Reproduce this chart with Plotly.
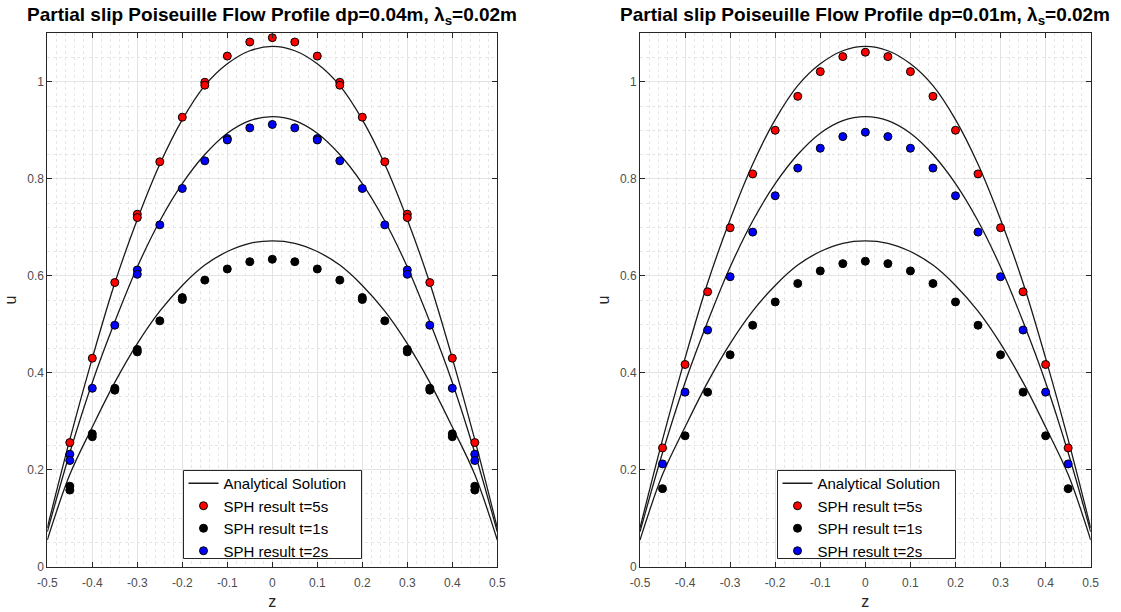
import plotly.graph_objects as go

# ---------------- data ----------------
z_line = [-0.5, -0.45, -0.4, -0.35, -0.3, -0.25, -0.2, -0.15, -0.1, -0.05, 0.0,
          0.05, 0.1, 0.15, 0.2, 0.25, 0.3, 0.35, 0.4, 0.45, 0.5]
ana_t5 = [0.080, 0.262, 0.430, 0.585, 0.716, 0.830, 0.922, 0.992, 1.037, 1.064, 1.073,
          1.064, 1.037, 0.992, 0.922, 0.830, 0.716, 0.585, 0.430, 0.262, 0.080]
ana_t2 = [0.072, 0.235, 0.380, 0.505, 0.618, 0.713, 0.790, 0.850, 0.894, 0.920, 0.928,
          0.920, 0.894, 0.850, 0.790, 0.713, 0.618, 0.505, 0.380, 0.235, 0.072]
ana_t1 = [0.055, 0.190, 0.288, 0.380, 0.460, 0.527, 0.580, 0.622, 0.650, 0.667, 0.672,
          0.667, 0.650, 0.622, 0.580, 0.527, 0.460, 0.380, 0.288, 0.190, 0.055]

# left panel (dp=0.04m)
L_red_z = [-0.45, -0.4, -0.35, -0.3, -0.3, -0.25, -0.2, -0.15, -0.15, -0.1, -0.05, 0.0,
           0.05, 0.1, 0.15, 0.15, 0.2, 0.25, 0.3, 0.3, 0.35, 0.4, 0.45]
L_red_u = [0.256, 0.430, 0.586, 0.727, 0.720, 0.835, 0.927, 0.999, 0.993, 1.053, 1.082, 1.091,
           1.082, 1.053, 0.999, 0.993, 0.927, 0.835, 0.727, 0.720, 0.586, 0.430, 0.256]
L_blk_z = [-0.45, -0.45, -0.4, -0.4, -0.35, -0.35, -0.3, -0.3, -0.25, -0.2, -0.2, -0.15, -0.1,
           -0.05, 0.0, 0.05, 0.1, 0.15, 0.2, 0.2, 0.25, 0.3, 0.3, 0.35, 0.35, 0.4, 0.4, 0.45, 0.45]
L_blk_u = [0.166, 0.158, 0.274, 0.268, 0.368, 0.364, 0.448, 0.443, 0.507, 0.555, 0.551, 0.591, 0.614,
           0.629, 0.634, 0.629, 0.614, 0.591, 0.555, 0.551, 0.507, 0.448, 0.443, 0.368, 0.364, 0.274,
           0.268, 0.166, 0.158]
L_blu_z = [-0.45, -0.45, -0.4, -0.35, -0.3, -0.3, -0.25, -0.2, -0.15, -0.1, -0.1, -0.05, 0.0,
           0.05, 0.1, 0.1, 0.15, 0.2, 0.25, 0.3, 0.3, 0.35, 0.4, 0.45, 0.45]
L_blu_u = [0.232, 0.219, 0.368, 0.498, 0.612, 0.603, 0.705, 0.780, 0.837, 0.883, 0.880, 0.905, 0.912,
           0.905, 0.883, 0.880, 0.837, 0.780, 0.705, 0.612, 0.603, 0.498, 0.368, 0.232, 0.219]

# right panel (dp=0.01m)
R_z = [-0.45, -0.4, -0.35, -0.3, -0.25, -0.2, -0.15, -0.1, -0.05, 0.0,
       0.05, 0.1, 0.15, 0.2, 0.25, 0.3, 0.35, 0.4, 0.45]
R_red_u = [0.245, 0.417, 0.567, 0.699, 0.810, 0.900, 0.970, 1.021, 1.052, 1.061,
           1.052, 1.021, 0.970, 0.900, 0.810, 0.699, 0.567, 0.417, 0.245]
R_blk_u = [0.161, 0.270, 0.360, 0.437, 0.498, 0.546, 0.584, 0.610, 0.625, 0.630,
           0.625, 0.610, 0.584, 0.546, 0.498, 0.437, 0.360, 0.270, 0.161]
R_blu_u = [0.212, 0.360, 0.488, 0.598, 0.690, 0.765, 0.822, 0.863, 0.887, 0.896,
           0.887, 0.863, 0.822, 0.765, 0.690, 0.598, 0.488, 0.360, 0.212]

x_ticks = [-0.5, -0.4, -0.3, -0.2, -0.1, 0, 0.1, 0.2, 0.3, 0.4, 0.5]
x_ticktext = ["-0.5", "-0.4", "-0.3", "-0.2", "-0.1", "0", "0.1", "0.2", "0.3", "0.4", "0.5"]
y_ticks = [0, 0.2, 0.4, 0.6, 0.8, 1]
y_ticktext = ["0", "0.2", "0.4", "0.6", "0.8", "1"]

titles = ["Partial slip Poiseuille Flow Profile dp=0.04m, λ<sub>s</sub>=0.02m",
          "Partial slip Poiseuille Flow Profile dp=0.01m, λ<sub>s</sub>=0.02m"]

# ---------------- figure ----------------
W, H = 1121, 612
fig = go.Figure()

FONT = "Liberation Sans, Arial, sans-serif"
AX = "#262626"


def add_panel(xa, ya, leg, red, blk, blu):
    for i, arr in enumerate([ana_t5, ana_t2, ana_t1]):
        fig.add_trace(go.Scatter(
            x=z_line, y=arr, mode="lines", line=dict(color="#1a1a1a", width=1.3, shape="spline"),
            name="Analytical Solution", showlegend=(i == 0), legend=leg, xaxis=xa, yaxis=ya))
    for (zz, uu), col, nm in [(red, "#ff0000", "SPH result t=5s"),
                              (blk, "#000000", "SPH result t=1s"),
                              (blu, "#0000ff", "SPH result t=2s")]:
        fig.add_trace(go.Scatter(
            x=zz, y=uu, mode="markers", name=nm, legend=leg, xaxis=xa, yaxis=ya,
            marker=dict(color=col, size=8, line=dict(color="#000000", width=1))))


add_panel("x", "y", "legend", (L_red_z, L_red_u), (L_blk_z, L_blk_u), (L_blu_z, L_blu_u))
add_panel("x2", "y2", "legend2", (R_z, R_red_u), (R_z, R_blk_u), (R_z, R_blu_u))

ydom = [(H - 566.7) / H, (H - 33.3) / H]
xdoms = [[47.3 / W, 497.3 / W], [640.0 / W, 1090.7 / W]]

common_x = dict(range=[-0.5, 0.5], tickvals=x_ticks, ticktext=x_ticktext,
                showline=True, linecolor=AX, linewidth=1, mirror="ticks",
                ticks="inside", ticklen=5, tickcolor=AX,
                showgrid=True, gridcolor="#e3e3e3", gridwidth=1,
                minor=dict(dtick=0.02, tick0=0, showgrid=True, gridcolor="#e6e6e6",
                           griddash="dot", ticks=""),
                zeroline=False, automargin=False, ticklabelstandoff=5,
                tickfont=dict(family=FONT, size=12, color="#4d4d4d"),
                title=dict(text="z", font=dict(family=FONT, size=16, color=AX), standoff=6))
common_y = dict(range=[0, 1.1], tickvals=y_ticks, ticktext=y_ticktext,
                showline=True, linecolor=AX, linewidth=1, mirror="ticks",
                ticks="inside", ticklen=5, tickcolor=AX,
                showgrid=True, gridcolor="#e3e3e3", gridwidth=1,
                minor=dict(dtick=0.05, tick0=0, showgrid=True, gridcolor="#e6e6e6",
                           griddash="dot", ticks=""),
                zeroline=False, automargin=False,
                tickfont=dict(family=FONT, size=12, color="#4d4d4d"),
                title=dict(text="u", font=dict(family=FONT, size=16, color=AX), standoff=6))

leg_common = dict(bgcolor="rgba(0,0,0,0)", borderwidth=0,
                  font=dict(family=FONT, size=15, color="#000000"),
                  xanchor="left", yanchor="top", tracegroupgap=0,
                  itemwidth=30)

fig.update_layout(
    width=W, height=H, margin=dict(l=0, r=0, t=0, b=0),
    paper_bgcolor="white", plot_bgcolor="white",
    xaxis=dict(domain=xdoms[0], anchor="y", **common_x),
    yaxis=dict(domain=ydom, anchor="x", **common_y),
    xaxis2=dict(domain=xdoms[1], anchor="y2", **common_x),
    yaxis2=dict(domain=ydom, anchor="x2", **common_y),
    legend=dict(x=183.5 / W, y=(H - 467) / H, **leg_common),
    legend2=dict(x=777.5 / W, y=(H - 467) / H, **leg_common),
    showlegend=True,
)

# legend frames (white boxes with dark border), snapped to half pixels
for x0 in (183.5, 777.5):
    fig.add_shape(type="rect", xref="paper", yref="paper",
                  x0=x0 / W, x1=(x0 + 178.0) / W, y0=(H - 558.5) / H, y1=(H - 470.5) / H,
                  fillcolor="white", line=dict(color=AX, width=1), layer="above")

for i, t in enumerate(titles):
    cx = (xdoms[i][0] + xdoms[i][1]) / 2
    fig.add_annotation(text="<b>" + t + "</b>", x=cx, y=(H - 16) / H, xref="paper", yref="paper",
                       xanchor="center", yanchor="middle", showarrow=False,
                       font=dict(family=FONT, size=19, color="#000000"))

fig.write_html("out.html")
